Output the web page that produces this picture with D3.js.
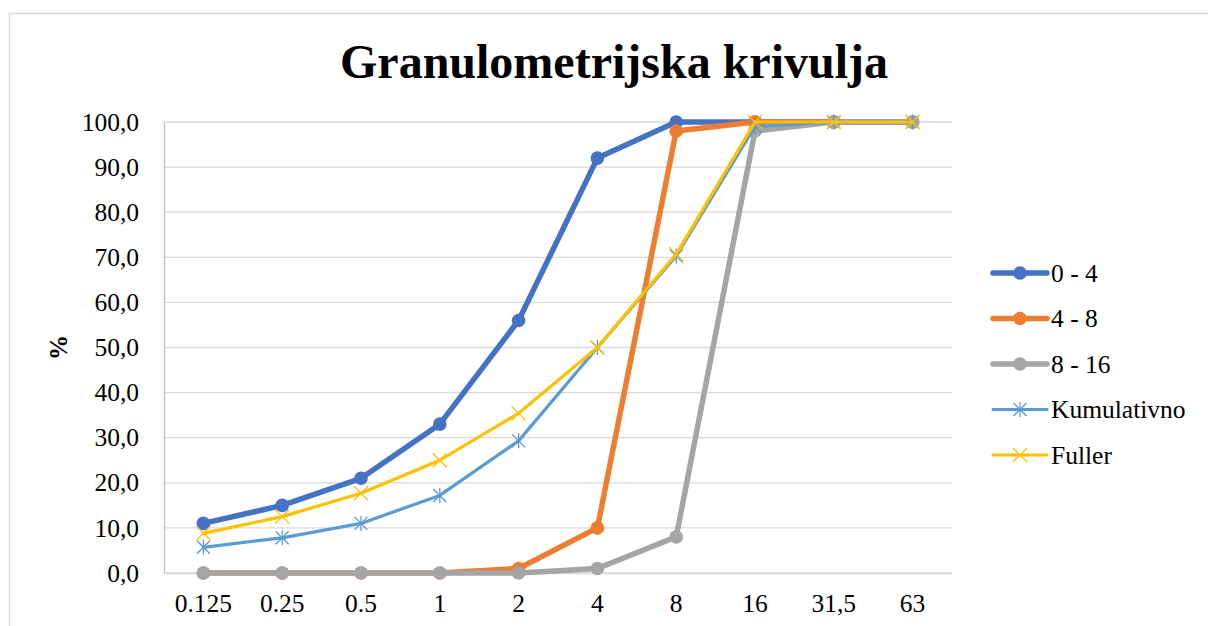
<!DOCTYPE html>
<html>
<head>
<meta charset="utf-8">
<script src="https://cdn.jsdelivr.net/npm/d3@7"></script>
<style>
  html, body { margin: 0; padding: 0; background: #fff; }
  svg { display: block; }
  svg text { font-family: "Liberation Serif", "Times New Roman", serif; }
</style>
</head>
<body>
<svg id="chart" width="1208" height="626"></svg>
<script>
// Sieve sizes (mm) and percentage passing for each aggregate fraction
const sieves = ["0.125", "0.25", "0.5", "1", "2", "4", "8", "16", "31,5", "63"];
const yTicks = [0, 10, 20, 30, 40, 50, 60, 70, 80, 90, 100];

const frac0_4  = [11, 15, 21, 33, 56, 92, 100, 100, 100, 100];
const frac4_8  = [0, 0, 0, 0, 1, 10, 98, 100, 100, 100];
const frac8_16 = [0, 0, 0, 0, 0, 1, 8, 98, 100, 100];
const kumulativno = [5.7, 7.8, 11.0, 17.2, 29.3, 50.0, 70.3, 99.0, 100, 100];
const fuller = [8.8, 12.5, 17.7, 25.0, 35.4, 50.0, 70.7, 100, 100, 100];

const seriesNames = ["0 - 4", "4 - 8", "8 - 16", "Kumulativno", "Fuller"];

const series = [
  { name: seriesNames[0], values: frac0_4,  color: "#4472C4", width: 5.5, marker: "circle" },
  { name: seriesNames[1], values: frac4_8,  color: "#ED7D31", width: 5.5, marker: "circle" },
  { name: seriesNames[2], values: frac8_16, color: "#A5A5A5", width: 5.5, marker: "circle" },
  { name: seriesNames[3], values: kumulativno, color: "#5B9BD5", width: 3.2, marker: "star" },
  { name: seriesNames[4], values: fuller,   color: "#FFC000", width: 3.2, marker: "cross" }
];

const svg = d3.select("#chart");
const serifFont = "Liberation Serif, Times New Roman, serif";

// Chart frame
svg.append("rect")
  .attr("x", 9.5).attr("y", 13.5)
  .attr("width", 1220).attr("height", 640)
  .attr("fill", "#fff").attr("stroke", "#d9d9d9").attr("stroke-width", 1.5);

const plot = { left: 164, right: 952, top: 122, bottom: 573 };

const x = d3.scaleBand().domain(sieves).range([plot.left, plot.right]).padding(0);
const y = d3.scaleLinear().domain([0, 100]).range([plot.bottom, plot.top]);
const cx = d => x(d) + x.bandwidth() / 2;

// Horizontal gridlines
svg.append("g")
  .selectAll("line")
  .data(yTicks)
  .join("line")
  .attr("x1", plot.left).attr("x2", plot.right)
  .attr("y1", d => y(d)).attr("y2", d => y(d))
  .attr("stroke", "#d9d9d9").attr("stroke-width", 1.3);

// Value axis
const yAxis = svg.append("g")
  .attr("transform", `translate(${plot.left},0)`)
  .call(d3.axisLeft(y).tickValues(yTicks).tickSize(0).tickPadding(25)
    .tickFormat(d => d3.format(".1f")(d).replace(".", ",")));
yAxis.attr("font-family", null).attr("font-size", null);
yAxis.select(".domain").attr("stroke", "#bfbfbf").attr("stroke-width", 1.3);
yAxis.selectAll("text")
  .style("font-family", serifFont).style("font-size", "25.5px").attr("fill", "#000");

// Category axis
const xAxis = svg.append("g")
  .attr("transform", `translate(0,${plot.bottom})`)
  .call(d3.axisBottom(x).tickSize(0).tickPadding(21));
xAxis.attr("font-family", null).attr("font-size", null);
xAxis.select(".domain").attr("stroke", "#d9d9d9").attr("stroke-width", 1.3);
xAxis.selectAll("text")
  .style("font-family", serifFont).style("font-size", "25.5px").attr("fill", "#000");

// Title
svg.append("text")
  .attr("x", 614).attr("y", 78)
  .attr("text-anchor", "middle")
  .style("font-family", serifFont).style("font-weight", "bold").style("font-size", "48px")
  .text("Granulometrijska krivulja");

// Value axis title
svg.append("text")
  .attr("transform", "translate(67,347.5) rotate(-90)")
  .attr("text-anchor", "middle")
  .style("font-family", serifFont).style("font-weight", "bold").style("font-size", "25px")
  .text("%");

// Marker drawing helper
function drawMarker(g, type, color, px, py) {
  if (type === "circle") {
    g.append("circle").attr("cx", px).attr("cy", py).attr("r", 6.8).attr("fill", color);
  } else if (type === "star") {
    const s = 6.5;
    const path = `M${px - s},${py - s}L${px + s},${py + s}M${px - s},${py + s}L${px + s},${py - s}M${px},${py - s - 1}L${px},${py + s + 1}`;
    g.append("path").attr("d", path).attr("stroke", color).attr("stroke-width", 1.3).attr("fill", "none");
  } else if (type === "cross") {
    const s = 7;
    const path = `M${px - s},${py - s}L${px + s},${py + s}M${px - s},${py + s}L${px + s},${py - s}`;
    g.append("path").attr("d", path).attr("stroke", color).attr("stroke-width", 1.3).attr("fill", "none");
  }
}

const line = d3.line().x((d, i) => cx(sieves[i])).y(d => y(d));

// Series lines and markers
series.forEach(s => {
  const g = svg.append("g");
  g.append("path")
    .datum(s.values)
    .attr("d", line)
    .attr("fill", "none")
    .attr("stroke", s.color)
    .attr("stroke-width", s.width)
    .attr("stroke-linejoin", "round")
    .attr("stroke-linecap", "round");
  s.values.forEach((v, i) => drawMarker(g, s.marker, s.color, cx(sieves[i]), y(v)));
});

// Legend
const legendRows = d3.scaleLinear().domain([0, 4]).range([273, 455]);
series.forEach((s, i) => {
  const g = svg.append("g");
  const ly = legendRows(i);
  g.append("line")
    .attr("x1", 993).attr("x2", 1047)
    .attr("y1", ly).attr("y2", ly)
    .attr("stroke", s.color).attr("stroke-width", s.width)
    .attr("stroke-linecap", "round");
  drawMarker(g, s.marker, s.color, 1020, ly);
  g.append("text")
    .attr("x", 1051).attr("y", ly)
    .attr("dy", "0.34em")
    .style("font-family", serifFont).style("font-size", "25.5px")
    .text(s.name);
});
</script>
</body>
</html>
